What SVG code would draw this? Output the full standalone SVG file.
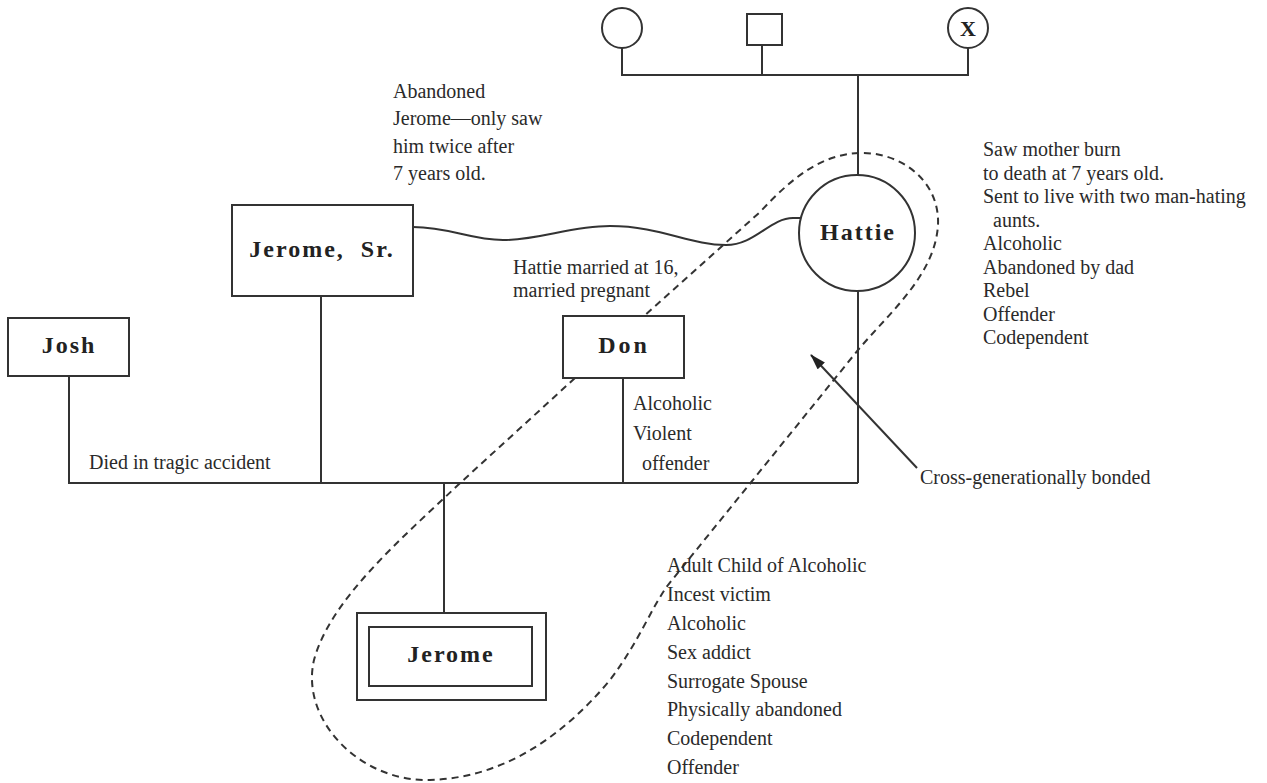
<svg xmlns="http://www.w3.org/2000/svg" width="1267" height="783" viewBox="0 0 1267 783">
<style>
.ln{stroke:#333;stroke-width:2;fill:none}
.box{stroke:#333;stroke-width:2;fill:#fff}
.nm{font-family:"Liberation Serif","Times New Roman",serif;font-weight:bold;font-size:24px;fill:#222;text-anchor:middle;letter-spacing:2px}
.t{font-family:"Liberation Serif","Times New Roman",serif;font-size:20px;fill:#2a2a2a}
.dash{stroke:#333;stroke-width:2;fill:none;stroke-dasharray:7 5}
</style>
<defs>
<marker id="ah" viewBox="0 0 16 10" refX="15" refY="5" markerWidth="16" markerHeight="10" markerUnits="userSpaceOnUse" orient="auto">
<path d="M0,0 L16,5 L0,10 Z" fill="#222"/>
</marker>
</defs>
<rect width="1267" height="783" fill="#fff"/>
<g id="connectors">
<path class="ln" d="M622,48 V75 H968 V48 M762,45 V75 M858,75 V175"/>
<path class="ln" d="M858,291 V483 M69,376 V483 H858 M321,296 V483 M623,378 V483 M444,483 V613"/>
<path class="ln" d="M413,227 C450,227 470,240 503,240 C540,240 570,226 610,226 C660,226 690,245 726,245 C755,245 770,218 793,218 L801,218"/>
<path class="dash" d="M575,378 L458,485 C400,540 330,600 314,660 C300,720 360,782 430,780 C500,778 560,740 610,680 C640,640 650,610 668,585 L858,350 C890,312 935,275 938,225 C940,180 900,152 860,153 C820,154 790,180 760,212 Z"/>
<line class="ln" x1="917" y1="468" x2="811" y2="355" marker-end="url(#ah)"/>
</g>
<g id="grandmother"><circle class="box" cx="622" cy="28" r="20"/></g>
<g id="grandfather"><rect class="box" x="747" y="14" width="35" height="31"/></g>
<g id="grandmother-deceased"><circle class="box" cx="968" cy="28" r="20"/><text x="968" y="36" font-family="Liberation Serif, serif" font-size="22" font-weight="bold" fill="#222" text-anchor="middle">X</text></g>
<g id="hattie"><circle class="box" cx="857" cy="233" r="58"/><text class="nm" x="858" y="240">Hattie</text></g>
<g id="jerome-sr"><rect class="box" x="232" y="205" width="181" height="91"/><text class="nm" x="322" y="257" xml:space="preserve">Jerome,  Sr.</text></g>
<g id="josh"><rect class="box" x="8" y="318" width="121" height="58"/><text class="nm" x="69" y="353">Josh</text></g>
<g id="don"><rect class="box" x="563" y="316" width="121" height="62"/><text class="nm" x="624" y="353" style="letter-spacing:3px">Don</text></g>
<g id="jerome"><rect class="box" x="357" y="613" width="189" height="87"/><rect class="box" x="369" y="627" width="163" height="59"/><text class="nm" x="451" y="662">Jerome</text></g>
<g id="labels">
<text class="t" x="393" y="98">Abandoned</text>
<text class="t" x="393" y="125">Jerome—only saw</text>
<text class="t" x="393" y="153">him twice after</text>
<text class="t" x="393" y="180">7 years old.</text>
<text class="t" x="983" y="156">Saw mother burn</text>
<text class="t" x="983" y="179.5">to death at 7 years old.</text>
<text class="t" x="983" y="203">Sent to live with two man-hating</text>
<text class="t" x="993" y="226.5">aunts.</text>
<text class="t" x="983" y="250">Alcoholic</text>
<text class="t" x="983" y="273.5">Abandoned by dad</text>
<text class="t" x="983" y="297">Rebel</text>
<text class="t" x="983" y="320.5">Offender</text>
<text class="t" x="983" y="344">Codependent</text>
<text class="t" x="513" y="274">Hattie married at 16,</text>
<text class="t" x="513" y="297">married pregnant</text>
<text class="t" x="633" y="410">Alcoholic</text>
<text class="t" x="633" y="440">Violent</text>
<text class="t" x="642" y="470">offender</text>
<text class="t" x="89" y="469">Died in tragic accident</text>
<text class="t" x="920" y="484">Cross-generationally bonded</text>
<text class="t" x="667" y="572">Adult Child of Alcoholic</text>
<text class="t" x="667" y="601">Incest victim</text>
<text class="t" x="667" y="630">Alcoholic</text>
<text class="t" x="667" y="659">Sex addict</text>
<text class="t" x="667" y="688">Surrogate Spouse</text>
<text class="t" x="667" y="716">Physically abandoned</text>
<text class="t" x="667" y="745">Codependent</text>
<text class="t" x="667" y="774">Offender</text>
</g>
</svg>
